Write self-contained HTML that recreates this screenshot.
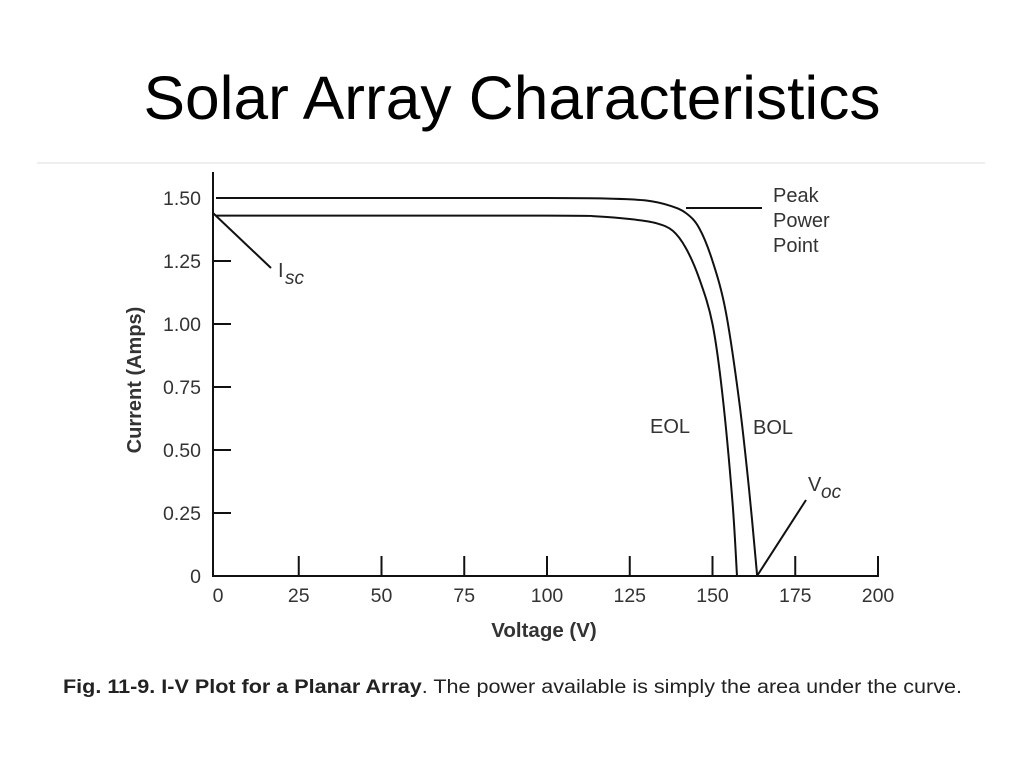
<!DOCTYPE html>
<html><head><meta charset="utf-8"><style>
body{margin:0;background:#fff;width:1024px;height:768px;overflow:hidden;font-family:"Liberation Sans",Arial,sans-serif}
</style></head><body>
<svg width="1024" height="768" xmlns="http://www.w3.org/2000/svg" font-family="Liberation Sans, Arial, sans-serif">
<text x="512" y="119" font-size="61" text-anchor="middle" fill="#000" textLength="737" lengthAdjust="spacingAndGlyphs">Solar Array Characteristics</text>
<line x1="37" y1="163" x2="985" y2="163" stroke="#ddd" stroke-width="1"/>
<g id="chart"></g>
<text x="63" y="693" font-size="19" fill="#222" textLength="899" lengthAdjust="spacingAndGlyphs"><tspan font-weight="bold">Fig. 11-9.   I-V Plot for a Planar Array</tspan>. The power available is simply the area under the curve.</text>
</svg>
<script>
const xTicks=[0,25,50,75,100,125,150,175,200];
const yTicks=[0,0.25,0.5,0.75,1.0,1.25,1.5];
const yTickLabels=["0","0.25","0.50","0.75","1.00","1.25","1.50"];
const bolV=[0,100,120,130,137,142,146,150,154,158,161,163.5];
const bolI=[1.50,1.50,1.497,1.49,1.47,1.44,1.38,1.25,1.05,0.70,0.35,0];
const eolV=[0,100,115,126,133,138,142,146,150,153,156,157.4];
const eolI=[1.43,1.43,1.427,1.415,1.40,1.37,1.30,1.18,1.0,0.72,0.30,0];
const NS="http://www.w3.org/2000/svg";
const g=document.getElementById('chart');
const X=v=>216+v*3.31;
const Y=i=>576-i*252;
function mk(t,a,txt){const e=document.createElementNS(NS,t);for(const k in a)e.setAttribute(k,a[k]);if(txt!==undefined)e.textContent=txt;g.appendChild(e);return e;}
let e;
e=mk('line',{x1:213,y1:172,x2:213,y2:577,stroke:'#111','stroke-width':2});


e=mk('line',{x1:212,y1:576,x2:879,y2:576,stroke:'#111','stroke-width':2});


xTicks.forEach((v,i)=>{
 if(i>0){e=mk('line',{x1:X(v),y1:576,x2:X(v),y2:556,stroke:'#111','stroke-width':2});
 
 }
 e=mk('text',{x:X(v)+(i==0?2:0),y:602,'font-size':19.5,'text-anchor':'middle',fill:'#333'},String(v));
 
 
});
yTicks.forEach((v,i)=>{
 if(i>0&&i<6){e=mk('line',{x1:213,y1:Y(v),x2:231,y2:Y(v),stroke:'#111','stroke-width':2});
 
 }
 e=mk('text',{x:201,y:Y(v)+7,'font-size':19.5,'text-anchor':'end',fill:'#333'},yTickLabels[i]);
 
 
});
function path(V,I){
 const p=V.map((v,i)=>[X(v),Y(I[i])]);let d='M'+p[0][0]+','+p[0][1];
 for(let i=0;i<p.length-1;i++){const p0=p[Math.max(0,i-1)],p1=p[i],p2=p[i+1],p3=p[Math.min(p.length-1,i+2)];
  d+=' C'+(p1[0]+(p2[0]-p0[0])/6)+','+(p1[1]+(p2[1]-p0[1])/6)+' '+(p2[0]-(p3[0]-p1[0])/6)+','+(p2[1]-(p3[1]-p1[1])/6)+' '+p2[0]+','+p2[1];}
 return d;}
e=mk('path',{d:path(bolV,bolI),fill:'none',stroke:'#111','stroke-width':2});


e=mk('path',{d:path(eolV,eolI),fill:'none',stroke:'#111','stroke-width':2});


const lines=[['isc-leader',213,213,271,268],['peak-power-leader',686,208,762,208],['voc-leader',757,576,806,500]];
lines.forEach(l=>{e=mk('line',{x1:l[1],y1:l[2],x2:l[3],y2:l[4],stroke:'#111','stroke-width':2});
 
 });
const labels=[['isc-label',278,277,'I'],['peak-label',773,202,'Peak'],['power-label',773,227,'Power'],['point-label',773,252,'Point'],['eol-label',650,433,'EOL'],['bol-label',753,434,'BOL'],['voc-label',808,491,'V']];
labels.forEach(l=>{e=mk('text',{x:l[1],y:l[2],'font-size':20,fill:'#333'},l[3]);
 
 });
e=mk('text',{x:285,y:284,'font-size':19,'font-style':'italic',fill:'#333'},'sc');


e=mk('text',{x:821,y:498,'font-size':19,'font-style':'italic',fill:'#333'},'oc');


e=mk('text',{x:544,y:637,'font-size':20.5,'font-weight':'bold','text-anchor':'middle',fill:'#333'},'Voltage (V)');


e=mk('text',{x:0,y:0,'font-size':20,'font-weight':'bold','text-anchor':'middle',fill:'#333',transform:'translate(141,380) rotate(-90)'},'Current (Amps)');


</script>
</body></html>
